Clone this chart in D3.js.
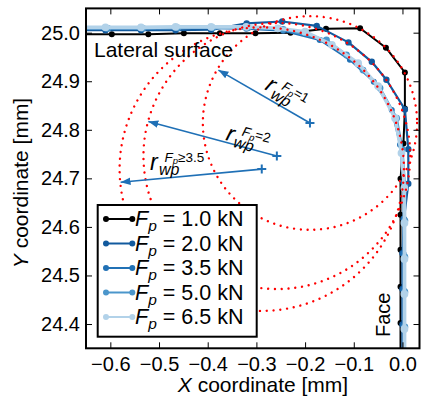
<!DOCTYPE html>
<html>
<head>
<meta charset="utf-8">
<script src="https://cdn.jsdelivr.net/npm/d3@7"></script>
<style>
  body { margin: 0; background: #fff; }
  svg { display: block; font-family: "Liberation Sans", Arial, sans-serif; }
</style>
</head>
<body>
<div id="chart-area"></div>
<script>
// ---- data (mm) ----
var loads = ["1.0", "2.0", "3.5", "5.0", "6.5"];

var x_1_0 = [-0.673, -0.597, -0.522, -0.449, -0.375, -0.302, -0.230, -0.157, -0.087, -0.034, 0.005, 0.005, 0.002, -0.004, -0.004, -0.004, -0.004, -0.004, -0.004];
var y_1_0 = [24.997, 24.997, 24.997, 24.999, 24.999, 24.999, 25.000, 25.008, 25.009, 24.969, 24.918, 24.844, 24.772, 24.699, 24.625, 24.553, 24.477, 24.402, 24.326];

var x_2_0 = [-0.673, -0.610, -0.537, -0.466, -0.393, -0.320, -0.247, -0.176, -0.111, -0.063, -0.033, 0.005, 0.012, 0.012, 0.003, 0.000, 0.000, 0.000, 0.000];
var y_2_0 = [25.005, 25.005, 25.005, 25.005, 25.006, 25.019, 25.023, 25.014, 24.980, 24.940, 24.903, 24.842, 24.760, 24.689, 24.616, 24.546, 24.472, 24.399, 24.322];

var x_3_5 = [-0.673, -0.608, -0.537, -0.465, -0.393, -0.321, -0.245, -0.170, -0.108, -0.059, -0.022, -0.005, 0.002, 0.002, 0.002, 0.002, 0.002, 0.002];
var y_3_5 = [25.008, 25.008, 25.008, 25.009, 25.009, 25.008, 25.004, 24.985, 24.944, 24.899, 24.841, 24.769, 24.691, 24.617, 24.545, 24.471, 24.397, 24.322];

var x_5_0 = [-0.673, -0.605, -0.533, -0.461, -0.389, -0.317, -0.245, -0.156, -0.115, -0.081, -0.046, -0.012, 0.000, 0.005, 0.005, 0.005, 0.005, 0.005, 0.005];
var y_5_0 = [25.009, 25.009, 25.009, 25.010, 25.010, 25.010, 25.007, 24.985, 24.954, 24.923, 24.886, 24.824, 24.759, 24.685, 24.613, 24.538, 24.466, 24.394, 24.316];

var x_6_5 = [-0.673, -0.610, -0.537, -0.466, -0.393, -0.321, -0.256, -0.200, -0.145, -0.091, -0.050, -0.015, -0.002, 0.004, 0.004, 0.004, 0.004, 0.004, 0.004];
var y_6_5 = [25.011, 25.011, 25.011, 25.012, 25.012, 25.012, 25.009, 25.002, 24.975, 24.937, 24.890, 24.824, 24.752, 24.680, 24.608, 24.534, 24.462, 24.390, 24.316];

// fitted wear-profile radii
var circleX = [-0.190, -0.258, -0.289];
var circleY = [24.814, 24.746, 24.719];
var circleR = [0.220, 0.274, 0.292];

// radius arrows (from centre to circle)
var arrowX0 = [-0.190, -0.258, -0.289];
var arrowY0 = [24.814, 24.746, 24.719];
var arrowX1 = [-0.378, -0.522, -0.579];
var arrowY1 = [24.923, 24.817, 24.692];
var arrowSup = ["=1", "=2", "\u22653.5"];

var xTicks = [-0.6, -0.5, -0.4, -0.3, -0.2, -0.1, 0.0];
var yTicks = [24.4, 24.5, 24.6, 24.7, 24.8, 24.9, 25.0];

// ---- styles ----
var colors = ["#000000", "#125a9e", "#2171b5", "#4b96cb", "#b2d2e9"];
var widths = [2, 2.2, 2, 2.4, 3.6];
var radii = [3, 3.2, 3, 3.4, 3.9];
var arrowColor = "#1f70b6";

var xs = [x_1_0, x_2_0, x_3_5, x_5_0, x_6_5];
var ys = [y_1_0, y_2_0, y_3_5, y_5_0, y_6_5];

var W = 423, H = 402;
var box = {left: 86, top: 8.4, right: 419.5, bottom: 348.3};

var svg = d3.select("#chart-area").append("svg")
  .attr("width", W)
  .attr("height", H);

var x = d3.scaleLinear().domain([-0.65, 0.035]).range([box.left, box.right]);
var y = d3.scaleLinear().domain([24.35, 25.05]).range([box.bottom, box.top]);

var defs = svg.append("defs");
defs.append("clipPath").attr("id", "clip")
  .append("rect")
  .attr("x", box.left).attr("y", box.top)
  .attr("width", box.right - box.left).attr("height", box.bottom - box.top);

var plot = svg.append("g").attr("clip-path", "url(#clip)");

// ---- profiles ----
var line = d3.line().x(function(d) { return x(d[0]); }).y(function(d) { return y(d[1]); });

loads.forEach(function(l, i) {
  var pts = d3.zip(xs[i], ys[i]);
  plot.append("path")
    .attr("d", line(pts))
    .attr("fill", "none")
    .attr("stroke", colors[i])
    .attr("stroke-width", widths[i])
    .attr("stroke-linejoin", "round");
  plot.selectAll(".pt" + i)
    .data(pts)
    .enter().append("circle")
    .attr("cx", function(d) { return x(d[0]); })
    .attr("cy", function(d) { return y(d[1]); })
    .attr("r", radii[i])
    .attr("fill", colors[i]);
});

// ---- dotted circles ----
circleX.forEach(function(cx, i) {
  plot.append("ellipse")
    .attr("cx", x(cx))
    .attr("cy", y(circleY[i]))
    .attr("rx", x(circleR[i]) - x(0))
    .attr("ry", y(0) - y(circleR[i]))
    .attr("fill", "none")
    .attr("stroke", "#ff0000")
    .attr("stroke-width", 2.4)
    .attr("stroke-linecap", "round")
    .attr("stroke-dasharray", "0.01 6.8");
});

// ---- arrows ----
defs.append("marker")
  .attr("id", "head")
  .attr("viewBox", "0 0 10 10")
  .attr("refX", 10).attr("refY", 5)
  .attr("markerWidth", 10).attr("markerHeight", 10)
  .attr("markerUnits", "userSpaceOnUse")
  .attr("orient", "auto")
  .append("path")
  .attr("d", "M0,1.2 L10,5 L0,8.8 Z")
  .attr("fill", arrowColor);

arrowX0.forEach(function(ax, i) {
  var px = x(ax), py = y(arrowY0[i]);
  plot.append("line")
    .attr("x1", px).attr("y1", py)
    .attr("x2", x(arrowX1[i])).attr("y2", y(arrowY1[i]))
    .attr("stroke", arrowColor)
    .attr("stroke-width", 1.6)
    .attr("marker-end", "url(#head)");
  plot.append("path")
    .attr("d", "M" + (px - 4.5) + "," + py + "h9M" + px + "," + (py - 4.5) + "v9")
    .attr("stroke", arrowColor)
    .attr("stroke-width", 2);
});

// r_wp^{F_p...} labels: anchor = baseline start of "r", rotation in degrees
var labelPos = [[264, 89, 30], [225, 140, 15], [150, 170, 0]];

function radiusLabel(p, sup) {
  var g = svg.append("g")
    .attr("transform", "translate(" + p[0] + "," + p[1] + ") rotate(" + p[2] + ")")
    .attr("fill", "#000");
  g.append("text").attr("font-style", "italic").attr("font-size", 23).text("r");
  g.append("text").attr("x", 9).attr("y", 4.5)
    .attr("font-style", "italic").attr("font-size", 16).text("wp");
  var t = g.append("text").attr("x", 14.5).attr("y", -8.5).attr("font-size", 13.5);
  t.append("tspan").attr("font-style", "italic").text("F");
  t.append("tspan").attr("font-style", "italic").attr("font-size", 9.5).attr("dy", 2.5).text("p");
  t.append("tspan").attr("dy", -2.5).text(sup);
}
labelPos.forEach(function(p, i) { radiusLabel(p, arrowSup[i]); });

// ---- text annotations ----
svg.append("text")
  .attr("x", 94).attr("y", 56.7)
  .attr("font-size", 21)
  .text("Lateral surface");

svg.append("text")
  .attr("transform", "translate(390,337) rotate(-90)")
  .attr("font-size", 20)
  .text("Face");

// ---- axes ----
function fmt(d) { return d3.format(".1f")(d).replace("-", "\u2212"); }

svg.append("g")
  .attr("transform", "translate(0," + box.bottom + ")")
  .call(d3.axisBottom(x).tickValues(xTicks).tickSize(-6).tickPadding(9).tickFormat(fmt))
  .call(function(g) { g.select(".domain").remove(); });
svg.append("g")
  .attr("transform", "translate(0," + box.top + ")")
  .call(d3.axisTop(x).tickValues(xTicks).tickSize(-6).tickFormat(""))
  .call(function(g) { g.select(".domain").remove(); });
svg.append("g")
  .attr("transform", "translate(" + box.left + ",0)")
  .call(d3.axisLeft(y).tickValues(yTicks).tickSize(-6).tickPadding(6).tickFormat(fmt))
  .call(function(g) { g.select(".domain").remove(); });
svg.append("g")
  .attr("transform", "translate(" + box.right + ",0)")
  .call(d3.axisRight(y).tickValues(yTicks).tickSize(-6).tickFormat(""))
  .call(function(g) { g.select(".domain").remove(); });

svg.selectAll(".tick text")
  .attr("font-size", 20)
  .attr("font-family", "Liberation Sans, Arial, sans-serif")
  .attr("fill", "#000");
svg.selectAll(".tick line").attr("stroke", "#000").attr("stroke-width", 1);

svg.append("rect")
  .attr("x", box.left).attr("y", box.top)
  .attr("width", box.right - box.left).attr("height", box.bottom - box.top)
  .attr("fill", "none")
  .attr("stroke", "#000")
  .attr("stroke-width", 2);

var xl = svg.append("text")
  .attr("x", 263).attr("y", 392)
  .attr("text-anchor", "middle")
  .attr("font-size", 21);
xl.append("tspan").attr("font-style", "italic").text("X");
xl.append("tspan").text(" coordinate [mm]");

var yl = svg.append("text")
  .attr("transform", "translate(28,183) rotate(-90)")
  .attr("text-anchor", "middle")
  .attr("font-size", 21);
yl.append("tspan").attr("font-style", "italic").text("Y");
yl.append("tspan").text(" coordinate [mm]");

// ---- legend ----
var legend = svg.append("g");
legend.append("rect")
  .attr("x", 97.7).attr("y", 205)
  .attr("width", 159).attr("height", 131.7)
  .attr("fill", "#fff")
  .attr("stroke", "#000")
  .attr("stroke-width", 2);

loads.forEach(function(l, i) {
  var ry = 219 + i * 24.5;
  legend.append("line")
    .attr("x1", 106).attr("x2", 132.3)
    .attr("y1", ry).attr("y2", ry)
    .attr("stroke", colors[i])
    .attr("stroke-width", 2);
  [106, 132.3].forEach(function(mx) {
    legend.append("circle").attr("cx", mx).attr("cy", ry).attr("r", 3).attr("fill", colors[i]);
  });
  var t = legend.append("text").attr("x", 135).attr("y", ry + 7).attr("font-size", 21.5);
  t.append("tspan").attr("font-style", "italic").text("F");
  t.append("tspan").attr("font-style", "italic").attr("font-size", 15.5).attr("dy", 5).text("p");
  t.append("tspan").attr("dy", -5).text(" = " + l + " kN");
});
</script>
</body>
</html>
